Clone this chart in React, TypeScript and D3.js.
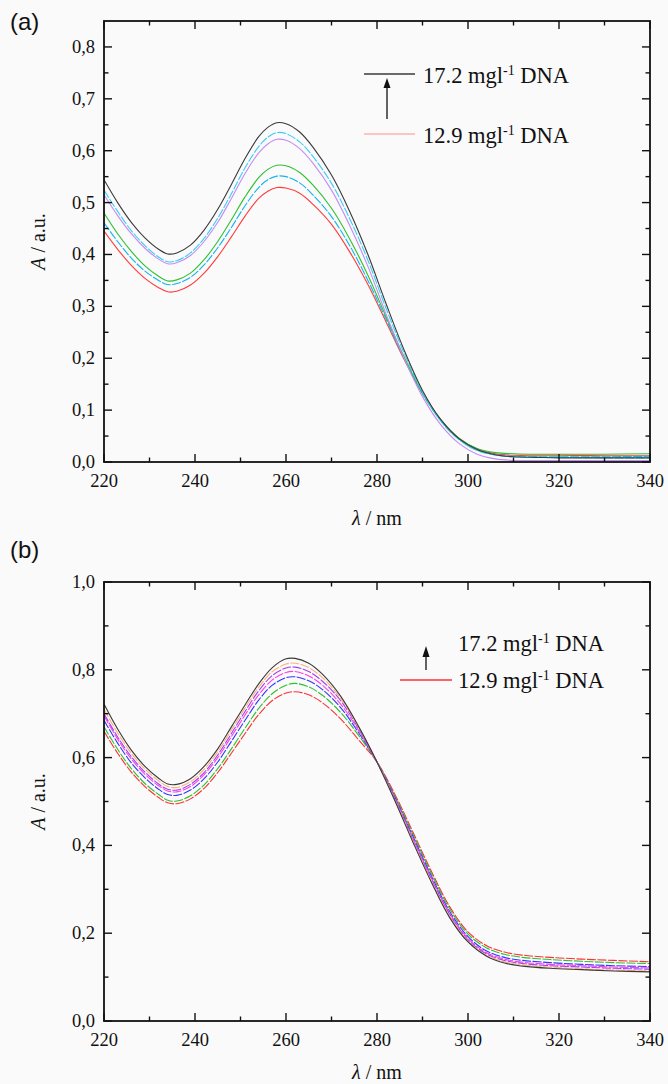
import React from "react";
import * as d3 from "d3";

// ---------- Panel (a) data ----------
const WL_A = [220, 223, 226, 229, 232, 234, 236, 239, 242, 245, 248, 251, 254, 256, 258, 260, 263, 266, 270, 274, 278, 282, 286, 290, 294, 298, 302, 306, 310, 315, 320, 330, 340];
const A_BLACK = [0.544, 0.500, 0.462, 0.432, 0.410, 0.401, 0.403, 0.418, 0.447, 0.487, 0.535, 0.585, 0.627, 0.645, 0.654, 0.652, 0.636, 0.606, 0.553, 0.483, 0.400, 0.305, 0.215, 0.138, 0.082, 0.045, 0.024, 0.014, 0.010, 0.009, 0.008, 0.008, 0.008];
const A_CYAN1 = [0.524, 0.483, 0.446, 0.417, 0.395, 0.386, 0.388, 0.403, 0.431, 0.470, 0.517, 0.567, 0.608, 0.626, 0.635, 0.633, 0.617, 0.588, 0.537, 0.469, 0.389, 0.296, 0.209, 0.134, 0.079, 0.043, 0.022, 0.013, 0.010, 0.009, 0.009, 0.008, 0.008];
const A_VIOLET = [0.515, 0.475, 0.440, 0.412, 0.391, 0.382, 0.384, 0.398, 0.425, 0.462, 0.508, 0.556, 0.596, 0.613, 0.622, 0.620, 0.604, 0.575, 0.524, 0.456, 0.377, 0.285, 0.199, 0.126, 0.072, 0.036, 0.015, 0.006, 0.003, 0.003, 0.003, 0.003, 0.003];
const A_GREEN = [0.480, 0.440, 0.406, 0.378, 0.358, 0.349, 0.351, 0.364, 0.390, 0.425, 0.467, 0.511, 0.548, 0.564, 0.572, 0.571, 0.558, 0.533, 0.489, 0.430, 0.360, 0.280, 0.202, 0.133, 0.081, 0.046, 0.026, 0.018, 0.016, 0.015, 0.015, 0.015, 0.016];
const A_CYAN2 = [0.461, 0.425, 0.393, 0.368, 0.350, 0.342, 0.344, 0.356, 0.380, 0.413, 0.452, 0.494, 0.529, 0.544, 0.551, 0.550, 0.538, 0.514, 0.473, 0.417, 0.350, 0.275, 0.199, 0.132, 0.080, 0.044, 0.023, 0.014, 0.011, 0.010, 0.010, 0.010, 0.011];
const A_RED = [0.445, 0.410, 0.379, 0.354, 0.336, 0.328, 0.329, 0.341, 0.364, 0.396, 0.434, 0.474, 0.508, 0.522, 0.529, 0.528, 0.518, 0.496, 0.458, 0.405, 0.342, 0.270, 0.197, 0.132, 0.081, 0.046, 0.025, 0.016, 0.013, 0.013, 0.013, 0.012, 0.012];

// ---------- Panel (b) data ----------
const WL_B = [220, 223, 226, 229, 232, 234, 236, 239, 242, 245, 248, 251, 254, 257, 260, 262, 265, 268, 272, 276, 280, 284, 288, 292, 296, 300, 304, 308, 312, 318, 325, 332, 340];
const B_BLACK = [0.722, 0.665, 0.617, 0.580, 0.553, 0.540, 0.539, 0.552, 0.580, 0.620, 0.670, 0.720, 0.768, 0.805, 0.825, 0.826, 0.815, 0.790, 0.740, 0.670, 0.590, 0.500, 0.405, 0.315, 0.235, 0.180, 0.148, 0.132, 0.125, 0.120, 0.117, 0.114, 0.112];
const B_PEACH = [0.710, 0.656, 0.610, 0.574, 0.547, 0.534, 0.532, 0.545, 0.573, 0.613, 0.663, 0.713, 0.760, 0.796, 0.813, 0.815, 0.805, 0.782, 0.735, 0.668, 0.590, 0.502, 0.408, 0.318, 0.238, 0.182, 0.150, 0.135, 0.128, 0.123, 0.119, 0.116, 0.114];
const B_VIOLET = [0.700, 0.647, 0.602, 0.567, 0.540, 0.528, 0.526, 0.539, 0.566, 0.606, 0.655, 0.705, 0.752, 0.787, 0.804, 0.806, 0.796, 0.774, 0.730, 0.665, 0.590, 0.504, 0.411, 0.322, 0.242, 0.185, 0.153, 0.138, 0.131, 0.126, 0.123, 0.120, 0.118];
const B_MAGENTA = [0.695, 0.642, 0.597, 0.562, 0.536, 0.524, 0.522, 0.534, 0.561, 0.600, 0.648, 0.697, 0.743, 0.777, 0.794, 0.796, 0.786, 0.765, 0.722, 0.661, 0.590, 0.506, 0.414, 0.325, 0.245, 0.188, 0.156, 0.141, 0.134, 0.129, 0.126, 0.123, 0.121];
const B_BLUE = [0.685, 0.633, 0.588, 0.554, 0.528, 0.516, 0.514, 0.526, 0.552, 0.590, 0.637, 0.685, 0.731, 0.765, 0.782, 0.784, 0.775, 0.755, 0.714, 0.656, 0.590, 0.508, 0.418, 0.329, 0.249, 0.192, 0.160, 0.145, 0.138, 0.133, 0.129, 0.126, 0.124];
const B_GREEN = [0.670, 0.619, 0.575, 0.541, 0.516, 0.503, 0.501, 0.513, 0.538, 0.575, 0.620, 0.667, 0.712, 0.746, 0.765, 0.769, 0.761, 0.742, 0.703, 0.650, 0.590, 0.511, 0.423, 0.335, 0.255, 0.198, 0.167, 0.152, 0.145, 0.140, 0.136, 0.133, 0.131];
const B_RED = [0.660, 0.610, 0.567, 0.534, 0.509, 0.497, 0.495, 0.506, 0.530, 0.566, 0.610, 0.655, 0.698, 0.730, 0.747, 0.750, 0.743, 0.725, 0.688, 0.640, 0.590, 0.515, 0.428, 0.340, 0.260, 0.203, 0.172, 0.157, 0.150, 0.145, 0.141, 0.138, 0.135];

// ---------- Axis / labels ----------
const X_DOMAIN = [220, 340];
const X_MAJOR = [220, 240, 260, 280, 300, 320, 340];
const X_MINOR = [230, 250, 270, 290, 310, 330];
const YA_MAJOR = [0, 0.1, 0.2, 0.3, 0.4, 0.5, 0.6, 0.7, 0.8];
const YA_MINOR = [0.05, 0.15, 0.25, 0.35, 0.45, 0.55, 0.65, 0.75];
const YB_MAJOR = [0, 0.2, 0.4, 0.6, 0.8, 1.0];
const YB_MINOR = [0.1, 0.3, 0.5, 0.7, 0.9];
const LEGEND_HIGH = "17.2 mgl";
const LEGEND_LOW = "12.9 mgl";

const SERIES_A = [
  { values: A_RED, color: "#ff3b3b", dash: "none" },
  { values: A_CYAN2, color: "#10b4f0", dash: "9,1.5" },
  { values: A_GREEN, color: "#2fbf2f", dash: "none" },
  { values: A_VIOLET, color: "#c48cf2", dash: "none" },
  { values: A_CYAN1, color: "#38cdfa", dash: "9,1.5" },
  { values: A_BLACK, color: "#3a3a3a", dash: "none" },
];

const SERIES_B = [
  { values: B_RED, color: "#ff3030", dash: "9,1.5" },
  { values: B_GREEN, color: "#2ec02e", dash: "9,1.5" },
  { values: B_BLUE, color: "#3036ff", dash: "9,1.5" },
  { values: B_MAGENTA, color: "#ff3cf0", dash: "9,1.5" },
  { values: B_VIOLET, color: "#a040ee", dash: "9,1.5" },
  { values: B_PEACH, color: "#ffb07a", dash: "9,1.5" },
  { values: B_BLACK, color: "#3a3a3a", dash: "none" },
];

const SERIF = "'Liberation Serif', 'Times New Roman', 'DejaVu Serif', serif";
const SANS = "'Liberation Sans', Arial, sans-serif";

const fmt = (v: number) => d3.format(".1f")(v).replace(".", ",");

type PanelProps = {
  left: number;
  right: number;
  top: number;
  bottom: number;
  yMax: number;
  yMajor: number[];
  yMinor: number[];
  wl: number[];
  series: { values: number[]; color: string; dash: string }[];
  tag: string;
  tagY: number;
  xTitleY: number;
};

function Panel(p: PanelProps) {
  const x = d3.scaleLinear().domain(X_DOMAIN).range([p.left, p.right]);
  const y = d3.scaleLinear().domain([0, p.yMax]).range([p.bottom, p.top]);
  const line = d3
    .line<number>()
    .x((_, i) => x(p.wl[i]))
    .y((v) => y(v))
    .curve(d3.curveCatmullRom.alpha(0.5));
  const MAJ = 8;
  const MIN = 4.5;
  const midY = (p.top + p.bottom) / 2;
  return (
    <g>
      <clipPath id={`clip-${p.tag}`}>
        <rect x={p.left} y={p.top} width={p.right - p.left} height={p.bottom - p.top} />
      </clipPath>
      <g clipPath={`url(#clip-${p.tag})`}>
        {p.series.map((s, i) => (
          <path
            key={i}
            d={line(s.values) || ""}
            fill="none"
            stroke={s.color}
            strokeWidth={1.1}
            strokeDasharray={s.dash}
          />
        ))}
      </g>
      {X_MAJOR.map((t) => (
        <g key={`xm${t}`}>
          <line x1={x(t)} x2={x(t)} y1={p.bottom} y2={p.bottom - MAJ} stroke="#111" strokeWidth={1.4} />
          <line x1={x(t)} x2={x(t)} y1={p.top} y2={p.top + MAJ} stroke="#111" strokeWidth={1.4} />
          <text x={x(t)} y={p.bottom + 25} textAnchor="middle" fontFamily={SERIF} fontSize={18.5} fill="#111">
            {t}
          </text>
        </g>
      ))}
      {X_MINOR.map((t) => (
        <g key={`xn${t}`}>
          <line x1={x(t)} x2={x(t)} y1={p.bottom} y2={p.bottom - MIN} stroke="#111" strokeWidth={1.4} />
          <line x1={x(t)} x2={x(t)} y1={p.top} y2={p.top + MIN} stroke="#111" strokeWidth={1.4} />
        </g>
      ))}
      {p.yMajor.map((t) => (
        <g key={`ym${t}`}>
          <line x1={p.left} x2={p.left + MAJ} y1={y(t)} y2={y(t)} stroke="#111" strokeWidth={1.4} />
          <line x1={p.right} x2={p.right - MAJ} y1={y(t)} y2={y(t)} stroke="#111" strokeWidth={1.4} />
          <text x={p.left - 9} y={y(t) + 6} textAnchor="end" fontFamily={SERIF} fontSize={18.5} fill="#111">
            {fmt(t)}
          </text>
        </g>
      ))}
      {p.yMinor.map((t) => (
        <g key={`yn${t}`}>
          <line x1={p.left} x2={p.left + MIN} y1={y(t)} y2={y(t)} stroke="#111" strokeWidth={1.4} />
          <line x1={p.right} x2={p.right - MIN} y1={y(t)} y2={y(t)} stroke="#111" strokeWidth={1.4} />
        </g>
      ))}
      <rect
        x={p.left}
        y={p.top}
        width={p.right - p.left}
        height={p.bottom - p.top}
        fill="none"
        stroke="#111"
        strokeWidth={1.8}
      />
      <text
        transform={`translate(${45},${midY}) rotate(-90)`}
        textAnchor="middle"
        fontFamily={SERIF}
        fontSize={20}
        fill="#111"
      >
        <tspan fontStyle="italic">A</tspan> / a.u.
      </text>
      <text x={(p.left + p.right) / 2} y={p.xTitleY} textAnchor="middle" fontFamily={SERIF} fontSize={20} fill="#111">
        <tspan fontStyle="italic">λ</tspan> / nm
      </text>
      <text x={10} y={p.tagY} fontFamily={SANS} fontSize={24} fill="#111">
        {`(${p.tag})`}
      </text>
    </g>
  );
}

function LegendText({ x, y, label }: { x: number; y: number; label: string }) {
  return (
    <text x={x} y={y} fontFamily={SERIF} fontSize={22.5} fill="#111">
      {label}
      <tspan fontSize={14} dy={-8}>-1</tspan>
      <tspan dy={8}> DNA</tspan>
    </text>
  );
}

export default function App() {
  return (
    <svg
      width={668}
      height={1084}
      style={{ position: "absolute", left: 0, top: 0, background: "#fafafa" }}
    >
      <rect x={0} y={0} width={668} height={1084} fill="#fafafa" />
      <Panel
        left={104}
        right={650}
        top={21}
        bottom={462}
        yMax={0.85}
        yMajor={YA_MAJOR}
        yMinor={YA_MINOR}
        wl={WL_A}
        series={SERIES_A}
        tag="a"
        tagY={30}
        xTitleY={525}
      />
      <Panel
        left={104}
        right={650}
        top={582}
        bottom={1021}
        yMax={1.0}
        yMajor={YB_MAJOR}
        yMinor={YB_MINOR}
        wl={WL_B}
        series={SERIES_B}
        tag="b"
        tagY={558}
        xTitleY={1079}
      />
      {/* Legend (a) */}
      <line x1={364} x2={415} y1={74} y2={74} stroke="#3a3a3a" strokeWidth={1.3} />
      <line x1={387} x2={387} y1={119} y2={82} stroke="#111" strokeWidth={1.3} />
      <path d="M383.5,88 L387,78 L390.5,88 Z" fill="#111" />
      <line x1={364} x2={415} y1={134} y2={134} stroke="#ffb0b0" strokeWidth={1.3} />
      <LegendText x={423} y={83} label={LEGEND_HIGH} />
      <LegendText x={423} y={143} label={LEGEND_LOW} />
      {/* Legend (b) */}
      <line x1={426} x2={426} y1={670} y2={652} stroke="#111" strokeWidth={1.3} />
      <path d="M422.5,657 L426,646 L429.5,657 Z" fill="#111" />
      <line x1={400} x2={452} y1={680} y2={680} stroke="#ff3030" strokeWidth={1.3} />
      <LegendText x={458} y={651} label={LEGEND_HIGH} />
      <LegendText x={458} y={688} label={LEGEND_LOW} />
    </svg>
  );
}
